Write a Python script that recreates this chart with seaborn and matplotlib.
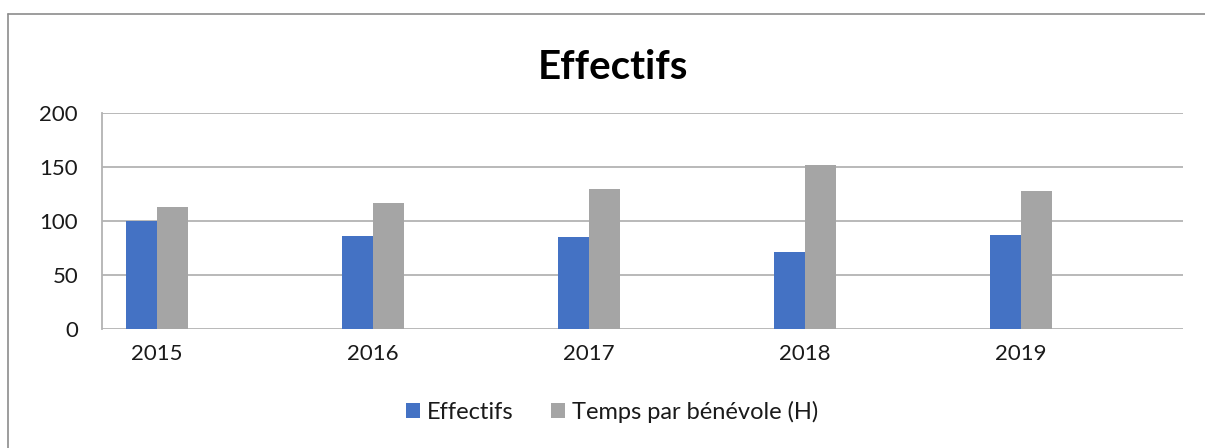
import matplotlib
matplotlib.use("Agg")
import matplotlib.pyplot as plt
import seaborn as sns
import pandas as pd
from matplotlib.lines import Line2D
from matplotlib.patches import Patch

years = ["2015", "2016", "2017", "2018", "2019"]
effectifs = [100, 86, 85, 71, 87]
temps = [113, 117, 130, 152, 128]
series_names = ["Effectifs", "Temps par bénévole (H)"]
colors = ["#4472C4", "#A5A5A5"]

df = pd.DataFrame({
    "year": years * 2,
    "value": effectifs + temps,
    "series": [series_names[0]] * len(years) + [series_names[1]] * len(years),
})

sns.set_theme(style="white")
plt.rcParams["font.family"] = ["Lato", "DejaVu Sans"]

fig = plt.figure(figsize=(12.05, 4.48), dpi=100)
ax = fig.add_axes([0.0844, 0.2656, 0.982 - 0.0844, 0.747 - 0.2656])

sns.barplot(data=df, x="year", y="value", hue="series", order=years,
            hue_order=series_names, palette=colors, width=0.287, dodge=True,
            gap=0, saturation=1, ax=ax, legend=False, edgecolor="none")

ax.set_xlim(-0.255, 4.751)
ax.set_ylim(0, 200)
ax.set_yticks([0, 50, 100, 150, 200])
ax.yaxis.grid(True, color="#b3b3b3", linewidth=1.3)
ax.set_axisbelow(True)
for s in ["top", "right", "bottom"]:
    ax.spines[s].set_visible(False)
ax.spines["left"].set_color("#b3b3b3")
ax.spines["left"].set_linewidth(1.3)
ax.set_xlabel("")
ax.set_ylabel("")
ax.tick_params(axis="y", length=0, pad=17, labelsize=16, labelcolor="#1a1a1a")
ax.tick_params(axis="x", length=0, pad=11, labelsize=16, labelcolor="#1a1a1a")

fig.text(0.509, 0.85, "Effectifs", ha="center", va="center",
         fontsize=29, fontweight="bold", color="black")

handles = [Patch(facecolor=c, edgecolor="none") for c in colors]
fig.legend(handles, series_names, loc="center", bbox_to_anchor=(0.508, 0.08),
           ncol=2, frameon=False, fontsize=17, handlelength=0.6,
           handleheight=0.6, handletextpad=0.3, columnspacing=1.6,
           labelcolor="#1a1a1a")

# chart border (left and top)
fig.add_artist(Line2D([8 / 1205, 8 / 1205], [0, 1 - 14 / 448], transform=fig.transFigure,
                      color="#8c8c8c", linewidth=1.2))
fig.add_artist(Line2D([8 / 1205, 1], [1 - 14 / 448, 1 - 14 / 448], transform=fig.transFigure,
                      color="#8c8c8c", linewidth=1.2))

fig.savefig("out.png", dpi=100)
